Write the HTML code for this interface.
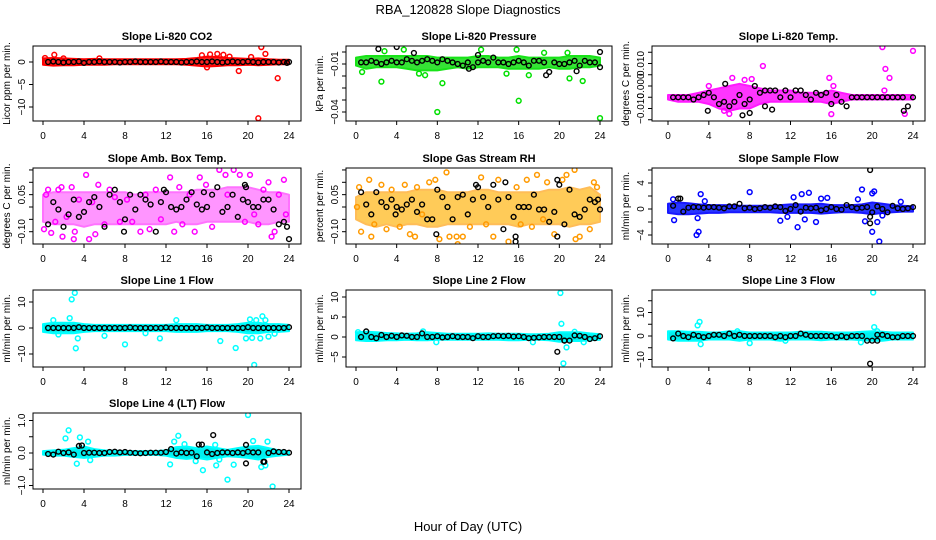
<!DOCTYPE html>
<html><head><meta charset="utf-8"><style>
html,body{margin:0;padding:0;background:#fff}
svg{display:block;font-family:"Liberation Sans",sans-serif}
</style></head><body>
<svg id="chart" width="936" height="540" viewBox="0 0 936 540">
<text x="468" y="14" text-anchor="middle" font-size="13">RBA_120828  Slope Diagnostics</text>
<text x="468" y="531" text-anchor="middle" font-size="13">Hour of Day (UTC)</text>
</svg>
<script>
// ---------- data ----------
const xTickValues=[0,4,8,12,16,20,24];
const titles=["Slope Li-820 CO2","Slope Li-820 Pressure","Slope Li-820 Temp.","Slope Amb. Box Temp.","Slope Gas Stream RH","Slope Sample Flow","Slope Line 1 Flow","Slope Line 2 Flow","Slope Line 3 Flow","Slope Line 4 (LT) Flow"];
const yTitles=["Licor ppm per min.","kPa per min.","degrees C per min.","degrees C per min.","percent per min.","ml/min per min.","ml/min per min.","ml/min per min.","ml/min per min.","ml/min per min."];
const yTicks1=[0,-5,-10]; const yLab1=["0","\u22125","\u221210"];
const yTicks2=[-0.0025,-0.01,-0.0175,-0.025,-0.0325,-0.04]; const yLab2=["","\u22120.01","","","","\u22120.04"];
const yTicks3=[0.015,0.01,0.005,0,-0.005,-0.01,-0.015]; const yLab3=["","0.010","","0.000","","\u22120.010",""];
const yTicks4=[0.15,0.1,0.05,0,-0.05,-0.1]; const yLab4=["","","0.05","","","\u22120.10"];
const yTicks5=[0.15,0.1,0.05,0,-0.05,-0.1]; const yLab5=["","","0.05","","","\u22120.10"];
const yTicks6=[6,4,2,0,-2,-4]; const yLab6=["","4","","0","","\u22124"];
const yTicks7=[10,0,-10]; const yLab7=["10","0","\u221210"];
const yTicks8=[10,5,0,-5]; const yLab8=["10","5","0","\u22125"];
const yTicks9=[15,10,5,0,-5,-10]; const yLab9=["","10","","0","","\u221210"];
const yTicks10=[1,0.5,0,-0.5,-1]; const yLab10=["1.0","","0.0","","\u22121.0"];

// band envelopes (hourly 0..24)
const lo1=[-0.6,-0.8,-0.7,-0.7,-0.6,-0.6,-0.6,-0.5,-0.5,-0.5,-0.5,-0.5,-0.5,-0.5,-0.6,-0.8,-1.0,-0.9,-0.7,-0.7,-0.6,-0.7,-0.6,-0.5,-0.5];
const hi1=[0.8,0.9,0.8,0.7,0.6,0.7,0.6,0.6,0.6,0.6,0.6,0.6,0.6,0.6,0.7,0.9,1.2,1.1,0.9,0.8,0.7,0.8,0.6,0.5,0.5];
const lo2=[-0.011,-0.013,-0.012,-0.012,-0.012,-0.013,-0.014,-0.014,-0.014,-0.013,-0.012,-0.013,-0.012,-0.012,-0.012,-0.013,-0.013,-0.013,-0.013,-0.012,-0.013,-0.013,-0.012,-0.012,-0.011];
const hi2=[-0.006,-0.005,-0.005,-0.005,-0.005,-0.005,-0.005,-0.005,-0.006,-0.006,-0.006,-0.006,-0.005,-0.005,-0.006,-0.006,-0.005,-0.006,-0.006,-0.006,-0.006,-0.005,-0.005,-0.005,-0.006];
const lo3=[-0.006,-0.007,-0.007,-0.007,-0.008,-0.010,-0.011,-0.010,-0.010,-0.008,-0.007,-0.007,-0.007,-0.007,-0.007,-0.007,-0.008,-0.007,-0.006,-0.006,-0.006,-0.006,-0.006,-0.006,-0.006];
const hi3=[-0.004,-0.004,-0.004,-0.003,-0.002,-0.001,0.0,0.001,0.0,-0.001,-0.002,-0.002,-0.002,-0.003,-0.003,-0.003,-0.002,-0.003,-0.004,-0.004,-0.004,-0.004,-0.004,-0.004,-0.004];
const lo4=[-0.06,-0.07,-0.07,-0.07,-0.08,-0.07,-0.07,-0.07,-0.07,-0.07,-0.07,-0.07,-0.07,-0.06,-0.07,-0.07,-0.06,-0.06,-0.06,-0.06,-0.06,-0.07,-0.07,-0.06,-0.06];
const hi4=[0.05,0.06,0.06,0.06,0.06,0.06,0.06,0.06,0.06,0.05,0.06,0.06,0.06,0.06,0.06,0.07,0.07,0.07,0.08,0.08,0.08,0.07,0.06,0.06,0.05];
const lo5=[-0.05,-0.07,-0.08,-0.07,-0.08,-0.07,-0.07,-0.08,-0.08,-0.07,-0.07,-0.07,-0.07,-0.07,-0.07,-0.07,-0.08,-0.07,-0.07,-0.07,-0.07,-0.08,-0.07,-0.07,-0.06];
const hi5=[0.04,0.06,0.06,0.06,0.06,0.06,0.07,0.07,0.07,0.06,0.06,0.06,0.07,0.07,0.06,0.06,0.06,0.06,0.06,0.07,0.07,0.08,0.07,0.08,0.05];
const lo6=[-0.6,-0.8,-0.8,-0.7,-0.6,-0.6,-0.5,-0.5,-0.5,-0.5,-0.5,-0.6,-0.6,-0.6,-0.6,-0.7,-0.6,-0.5,-0.5,-0.6,-0.8,-0.6,-0.5,-0.4,-0.4];
const hi6=[0.8,1.0,0.9,0.7,0.6,0.6,0.6,0.5,0.5,0.5,0.5,0.6,0.7,0.7,0.7,0.8,0.6,0.6,0.6,0.7,1.0,0.8,0.6,0.5,0.4];
const lo7=[-1.5,-2,-2,-2,-1.5,-1.2,-1.2,-1.2,-1.2,-1.2,-1.2,-1.2,-1.2,-1.5,-1.5,-1.5,-1.2,-1.2,-1.2,-1.5,-2,-2,-1.5,-1.5,-1.2];
const hi7=[1.5,2,2,2,1.5,1.2,1.2,1.2,1.2,1.2,1.2,1.2,1.2,1.5,1.5,1.5,1.2,1.2,1.2,1.5,2,2,1.5,1.5,1.2];
const lo8=[-0.8,-1,-1,-0.8,-0.8,-0.7,-0.8,-0.8,-0.7,-0.7,-0.7,-0.7,-0.7,-0.7,-0.7,-0.8,-0.8,-0.7,-0.7,-0.8,-1.2,-1,-1,-0.8,-0.7];
const hi8=[1.2,1.3,1.2,1,0.9,0.8,0.9,1.2,1,0.8,0.8,0.8,0.8,0.9,0.8,0.8,0.8,0.7,0.7,0.8,1.2,1.2,1.2,0.9,0.7];
const lo9=[-1.5,-2,-2,-2,-1.5,-1.5,-1.5,-2,-1.5,-1.5,-1.5,-2,-1.5,-1.5,-1.5,-1.8,-1.5,-1.5,-1.5,-1.8,-2,-2,-1.5,-1.5,-1.5];
const hi9=[2,2,1.8,1.8,1.5,1.5,2,2,1.5,1.5,1.5,1.5,1.5,1.8,1.8,1.8,1.5,1.5,1.5,1.8,2,1.8,1.5,1.5,1.5];
const lo10=[-0.05,-0.08,-0.08,-0.12,-0.15,-0.12,-0.08,-0.08,-0.06,-0.06,-0.06,-0.06,-0.08,-0.15,-0.18,-0.15,-0.2,-0.15,-0.1,-0.12,-0.15,-0.2,-0.12,-0.08,-0.05];
const hi10=[0.06,0.08,0.1,0.15,0.2,0.12,0.08,0.07,0.06,0.06,0.06,0.06,0.08,0.18,0.2,0.15,0.2,0.15,0.1,0.15,0.2,0.22,0.15,0.08,0.05];

// colored scattered points [hour, value]
const pts1=[[1.1,1.6],[19.1,-2],[21.3,3.3],[21.7,1.8],[22.9,-3.6],[21,-12.5],[15.5,1.5],[16.3,1.7],[17,1.8],[17.6,1.6],[0.2,0.9],[2,0.8],[5.5,0.8],[16,-1.2],[18.2,1.2],[20.3,1.1]];
const pts2=[[2.5,-0.021],[8,-0.04],[8.5,-0.022],[16,-0.033],[24,-0.0438],[22.3,-0.0206],[21,-0.019],[0.6,-0.015],[6.2,-0.016],[6.8,-0.017],[14.8,-0.016],[17,-0.017],[2.8,-0.002],[4.7,-0.001],[12.3,-0.001],[15.8,-0.001],[18.5,-0.003],[20.8,-0.003]];
const pts3=[[21,0.0173],[24,0.0156],[21.3,0.0076],[21.7,0.0036],[9.3,0.0089],[6.3,0.0036],[7.5,0.0027],[8.2,0.0031],[15.8,0.0036],[23.2,-0.0124],[6,-0.0124],[5.5,-0.011],[16,-0.0125],[4,0.0],[16.2,0.0],[21.2,-0.002]];
const pts4=[[0.1,-0.09],[0.3,0.05],[0.5,0.07],[0.8,-0.105],[1.2,-0.06],[1.5,0.07],[1.8,0.08],[1.9,-0.12],[2.3,-0.04],[2.8,0.08],[3,-0.13],[3.1,-0.1],[3.5,0.03],[4.2,0.13],[4.5,-0.13],[4.8,0.02],[5.1,-0.11],[5.4,0.09],[6,-0.07],[6.5,0.07],[7,0.04],[7.5,-0.06],[8.2,0.03],[8.7,-0.06],[9.5,-0.1],[10,0.05],[10.4,-0.09],[11,0.07],[11.5,-0.05],[12.4,0.12],[12.8,-0.1],[13.3,0.08],[13.6,-0.07],[14.3,0.05],[14.8,-0.1],[15.3,0.12],[15.9,0.09],[16.5,-0.08],[17.2,0.15],[17.8,0.13],[18,0.05],[18.6,0.15],[19.2,0.13],[19.7,-0.06],[20.2,0.13],[20.6,-0.03],[21,-0.07],[21.5,0.07],[22,0.1],[22.3,-0.12],[22.6,-0.1],[23,0.05],[23.5,0.11],[23.7,-0.03]];
const pts5=[[0.1,0.0],[0.3,0.08],[0.5,-0.1],[1.3,0.11],[1.5,-0.12],[1.8,-0.07],[2.5,0.09],[3,-0.09],[3.5,0.07],[4.3,-0.08],[4.8,0.09],[5.3,-0.11],[5.8,-0.12],[6,0.08],[6.5,-0.03],[7.2,0.1],[7.8,0.11],[8.2,-0.13],[8.9,0.14],[9.2,-0.12],[9.9,-0.12],[10,-0.15],[10.5,-0.12],[11.2,-0.08],[12.3,0.12],[12.8,-0.07],[13.5,-0.12],[14,0.11],[15,-0.14],[15.8,0.08],[16.2,-0.07],[16.8,0.11],[17.3,-0.08],[17.8,0.13],[18.4,-0.05],[18.8,0.1],[19.5,-0.11],[20.3,0.11],[20.7,0.13],[21.5,0.15],[21.6,-0.13],[22,-0.12],[23.4,0.1],[23,-0.09],[23.7,0.08]];
const pts6=[[0.5,1.5],[0.6,-1.7],[2.8,-4],[3,-3.5],[3.2,2.3],[2.9,-1.4],[8,2.6],[11,-1.8],[12.3,1.8],[12.7,-2.8],[13.1,2.3],[13.4,-1.6],[13.8,2.5],[14.5,-2],[15,1.6],[15.6,1.7],[18.6,1.5],[19,3],[19.3,-1.9],[20,2.4],[20.2,2.7],[20,-3.5],[20.7,-5],[20.5,-2],[21,-1],[22.8,1.1],[3.6,1.2],[11.7,-1.2]];
const pts7=[[2.8,11],[3.1,13.5],[2.6,3.8],[3.2,-7.8],[3.4,-4],[1,3],[1.5,-2.5],[6,-3],[8,-6.3],[10,-2],[11.4,-4],[13,3],[17.3,-5],[18.8,-7.7],[19.8,-4],[20.2,3.3],[20.4,-3.8],[20.6,-14.2],[20.8,3],[21.2,-4],[21.4,4.5],[21.7,3],[22,-3.3],[22.6,-2.2]];
const pts8=[[20.1,11],[20.2,3.3],[20.7,-2.6],[20.4,-6.6],[7.9,-1.3],[17.4,-1.3],[21.5,1.3],[0.2,1.2],[6.6,1.4],[22.4,-1.3]];
const pts9=[[20.1,18.5],[20.2,3.8],[3.1,6],[2.9,4.5],[3.2,-3.5],[8,-3],[18.9,-2.7],[20.5,2],[11.5,-2],[6.8,2]];
const pts10=[[2.2,0.45],[2.5,0.7],[3.6,0.48],[3.3,-0.33],[4.4,0.35],[4.6,-0.22],[12.4,-0.35],[12.8,0.35],[13.2,0.53],[13.8,0.27],[15.6,-0.53],[16.9,-0.38],[16.8,0.25],[18,-0.82],[18.6,-0.36],[20,1.17],[20.5,0.37],[21.3,-0.43],[21.9,0.35],[22.4,-1.03],[21.7,-0.38],[14.9,-0.25],[17.2,-0.2]];

// black series values at half-hour steps 0.5..24
const blk1=[0,0.1,0,-0.1,0,0,0.1,-0.2,0,0,0.1,0,0,0,-0.1,0,0,0.1,0,0,0,0,0.1,0,0,0,-0.1,0,0,0.1,0,0,0.1,0,-0.1,0,0.1,0,0,0.1,0,-0.1,0,0,0,-0.1,0,0];
const blk2=[-0.009,-0.009,-0.008,-0.009,-0.010,-0.009,-0.008,-0.009,-0.009,-0.007,-0.008,-0.009,-0.008,-0.007,-0.008,-0.009,-0.007,-0.008,-0.009,-0.010,-0.011,-0.009,-0.012,-0.009,-0.008,-0.009,-0.006,-0.009,-0.009,-0.010,-0.009,-0.008,-0.009,-0.011,-0.008,-0.008,-0.009,-0.015,-0.009,-0.010,-0.010,-0.009,-0.008,-0.011,-0.008,-0.009,-0.009,-0.012];
const blk3=[-0.005,-0.005,-0.005,-0.005,-0.006,-0.005,-0.004,-0.003,-0.005,-0.008,-0.007,-0.009,-0.007,-0.004,-0.008,-0.006,0.0,-0.003,-0.009,-0.002,-0.002,-0.005,-0.002,-0.005,-0.002,-0.002,-0.004,-0.006,-0.003,-0.004,-0.003,-0.008,-0.004,-0.007,-0.009,-0.005,-0.005,-0.005,-0.005,-0.005,-0.005,-0.005,-0.005,-0.005,-0.005,-0.005,-0.009,-0.005];
const blk4=[-0.07,0.02,-0.01,-0.08,-0.03,0.03,-0.04,-0.02,0.02,0.04,0.0,-0.08,0.05,0.07,0.02,-0.05,0.05,-0.01,0.05,0.03,0.01,-0.1,0.02,0.06,0.0,-0.01,0.0,0.03,0.06,0.01,-0.01,0.0,0.05,0.08,-0.02,0.0,0.05,-0.04,0.03,0.02,0.0,0.0,0.03,0.03,-0.01,-0.07,-0.06,-0.13];
const blk5=[0.06,0.01,-0.03,0.06,0.02,0.0,0.03,0.0,-0.01,0.01,0.03,-0.02,0.01,-0.05,-0.05,0.07,0.04,0.0,-0.05,0.04,0.05,-0.03,0.03,0.08,0.04,0.0,0.09,0.03,-0.09,0.04,-0.04,0.0,0.0,0.0,0.05,-0.01,-0.01,-0.06,-0.02,0.09,-0.07,0.07,-0.03,-0.04,-0.01,0.03,0.02,-0.01];
const blk6=[0.5,1.6,-0.4,0.2,0.3,0.3,0.2,0.3,0.3,0.2,0.1,0.4,0.4,0.8,0.1,0.2,0.0,0.1,0.3,0.2,0.4,0.3,-0.3,0.0,0.6,-0.4,0.2,0.1,0.2,-0.2,0.0,0.3,0.0,-0.1,0.6,0.3,0.1,0.2,0.3,-0.5,0.4,0.0,-0.5,0.5,0.1,0.0,0.1,0.3];
const blk7=[0,0,0,0,0,0,0.3,0,0,0,0,0,0,0,0,0,0.2,0,0,0,0,0,0,0.2,0,0,0,0,0,0,0,0.2,0,0,0,0,0,0,0,0.3,0,0,0,0,0,0,0,0.3];
const blk8=[0,1.4,0,-0.3,0.5,0,0.3,0,0.4,0.3,0,0,0.9,0,0,0.2,-0.1,0,0.2,0,0,0,-0.3,0.2,0,0,0.2,0.3,0.2,0.3,0.1,0.2,0,-0.3,-0.2,-0.1,0,0,0,0,-0.9,-0.9,0.4,0.3,0,-0.5,-0.3,0.2];
const blk9=[-1,1,0,-0.5,0.5,0,-0.5,0,0.5,0.5,0,1,0,0.5,0,0,0,0,0,0,-0.5,0,-0.5,0,0,1,0.5,0,0,0,0,0,-0.5,0,-0.5,0,0,0,-2,-2,0.5,0.5,0,-0.5,-0.5,0,0,0];
const blk10=[-0.03,-0.05,0.04,0.0,0.02,-0.05,0.22,0.0,0.01,0.01,0.0,0.0,0.03,0.04,0.02,0.03,0.01,0.0,-0.01,0.0,0.01,0.01,0.01,0.03,0.12,-0.02,0.02,0.0,0.01,-0.1,0.26,0.02,-0.03,0.0,0.02,0.02,0.0,0.02,0.0,0.04,0.02,0.02,-0.27,0.0,0.05,0.03,0.03,0.01];
// extra black points [hour, value]
const bx1=[[23.8,-0.2]];
const bx2=[[2.2,-0.0006],[4,0.0006],[5.7,-0.0031],[12,-0.0044],[24,-0.0025],[18.7,-0.017],[11.1,-0.013],[21.7,-0.0145]];
const bx3=[[3.9,-0.011],[7.3,-0.013],[8,-0.012],[10.2,-0.0105],[5.6,0.001],[9.5,-0.002],[23.1,-0.011]];
const bx4=[[11.8,0.07],[15.7,0.06],[19.8,0.08],[19.7,0.09],[23.8,-0.08],[7.9,-0.1]];
const bx5=[[11.8,0.09],[14.7,0.1],[19.8,0.11],[15.7,-0.12],[15.7,-0.14],[19.8,-0.12],[7.9,-0.11],[3.9,-0.03],[23.8,0.03]];
const bx6=[[19.8,6],[19.8,-2.2],[19.8,-1.2],[1.2,1.6]];
const bx7=[];
const bx8=[[19.8,-3.7],[20.5,-0.9]];
const bx9=[[19.8,-11.8],[20.5,-2]];
const bx10=[[16.6,0.55],[19.8,-0.32],[21.6,-0.27],[15.2,0.26],[19.8,0.25],[3.8,0.23]];

// ---------- layout ----------
const cols=[[33,301,43,289],[346,612,356,600],[652,925,668,913]];
const rows=[[46,121],[168,244],[290,367],[413,489]];
const P=[
 {c:0,r:0,z:62,k:4.5,col:"#ff0000",band:"#ff2020",op:1,lo:lo1,hi:hi1,pts:pts1,blk:blk1,bx:bx1,t:yTicks1,l:yLab1},
 {c:1,r:0,z:48,k:1600,col:"#00e000",band:"#20e020",op:0.9,lo:lo2,hi:hi2,pts:pts2,blk:blk2,bx:bx2,t:yTicks2,l:yLab2},
 {c:2,r:0,z:86,k:2250,col:"#ff00ff",band:"#ff20ff",op:0.9,lo:lo3,hi:hi3,pts:pts3,blk:blk3,bx:bx3,t:yTicks3,l:yLab3},
 {c:0,r:1,z:207,k:247,col:"#ff00ff",band:"#ff40ff",op:0.55,lo:lo4,hi:hi4,pts:pts4,blk:blk4,bx:bx4,t:yTicks4,l:yLab4},
 {c:1,r:1,z:207,k:247,col:"#ff9a00",band:"#ffb000",op:0.65,lo:lo5,hi:hi5,pts:pts5,blk:blk5,bx:bx5,t:yTicks5,l:yLab5},
 {c:2,r:1,z:209,k:6.5,col:"#0000ff",band:"#1020ff",op:0.9,lo:lo6,hi:hi6,pts:pts6,blk:blk6,bx:bx6,t:yTicks6,l:yLab6},
 {c:0,r:2,z:328,k:2.6,col:"#00ffff",band:"#00f0f0",op:1,lo:lo7,hi:hi7,pts:pts7,blk:blk7,bx:bx7,t:yTicks7,l:yLab7},
 {c:1,r:2,z:337,k:4,col:"#00ffff",band:"#00f0f0",op:1,lo:lo8,hi:hi8,pts:pts8,blk:blk8,bx:bx8,t:yTicks8,l:yLab8},
 {c:2,r:2,z:336,k:2.35,col:"#00ffff",band:"#00f0f0",op:1,lo:lo9,hi:hi9,pts:pts9,blk:blk9,bx:bx9,t:yTicks9,l:yLab9},
 {c:0,r:3,z:453,k:32.5,col:"#00ffff",band:"#00f0f0",op:1,lo:lo10,hi:hi10,pts:pts10,blk:blk10,bx:bx10,t:yTicks10,l:yLab10}
];
const NS="http://www.w3.org/2000/svg";
const svg=document.getElementById('chart');
function mk(tag,attrs,parent){const e=document.createElementNS(NS,tag);for(const a in attrs)e.setAttribute(a,attrs[a]);parent.appendChild(e);return e;}
function circ(g,x,y,color,sw){return mk('circle',{cx:x.toFixed(1),cy:y.toFixed(1),r:2.4,fill:'none',stroke:color,'stroke-width':sw},g);}

P.forEach((p,i)=>{
  const [L,R,x0,x24]=cols[p.c]; const [T,B]=rows[p.r];
  const xs=h=>x0+(x24-x0)*h/24;
  const ys=v=>p.z-v*p.k;
  const g=mk('g',{},svg);
  
  
  const clip=mk('clipPath',{id:'cl'+i},g); mk('rect',{x:L,y:T,width:R-L,height:B-T},clip);
  const pg=mk('g',{'clip-path':'url(#cl'+i+')'},g);
  let d='';
  p.hi.forEach((v,h)=>{d+=(h?'L':'M')+xs(h).toFixed(1)+' '+ys(v).toFixed(1);});
  for(let h=p.lo.length-1;h>=0;h--) d+='L'+xs(h).toFixed(1)+' '+ys(p.lo[h]).toFixed(1);
  const band=mk('path',{d:d+'Z',fill:p.band,stroke:p.col,'stroke-width':2,'stroke-linejoin':'round',opacity:p.op},pg);
  
  
  p.pts.forEach(q=>{const c=circ(pg,xs(q[0]),ys(q[1]),p.col,1.5);
    
    });
  p.blk.forEach((v,k)=>{const c=circ(pg,xs((k+1)*0.5),ys(v),'#000',1.4);
    
    });
  p.bx.forEach(q=>{const c=circ(pg,xs(q[0]),ys(q[1]),'#000',1.4);
    
    });
  const box=mk('rect',{x:L,y:T,width:R-L,height:B-T,fill:'none',stroke:'#000','stroke-width':1},g);
  
  
  const xa=mk('g',{},g);
  
  
  mk('line',{x1:xs(0),x2:xs(24),y1:B,y2:B,stroke:'#000'},xa);
  xTickValues.forEach(v=>{mk('line',{x1:xs(v),x2:xs(v),y1:B,y2:B+4,stroke:'#000'},xa);
    const t=mk('text',{x:xs(v),y:B+18,'text-anchor':'middle','font-size':10},xa);t.textContent=v;
    
    });
  const ya=mk('g',{},g);
  
  
  mk('line',{x1:L,x2:L,y1:ys(p.t[0]),y2:ys(p.t[p.t.length-1]),stroke:'#000'},ya);
  p.t.forEach((v,k)=>{const y=ys(v);mk('line',{x1:L-4,x2:L,y1:y,y2:y,stroke:'#000'},ya);
    if(p.l[k]){const t=mk('text',{x:L-8,y:y,'text-anchor':'middle','font-size':10,transform:`rotate(-90 ${L-8} ${y})`},ya);t.textContent=p.l[k];
      
      }});
  const yt=mk('text',{x:L-23,y:(T+B)/2,'text-anchor':'middle','font-size':10,transform:`rotate(-90 ${L-23} ${(T+B)/2})`},g);
  yt.textContent=yTitles[i];
  
  
  const tt=mk('text',{x:(L+R)/2,y:T-6,'text-anchor':'middle','font-size':11,'font-weight':'bold'},g);
  tt.textContent=titles[i];
  
  
});
</script>
</body></html>
